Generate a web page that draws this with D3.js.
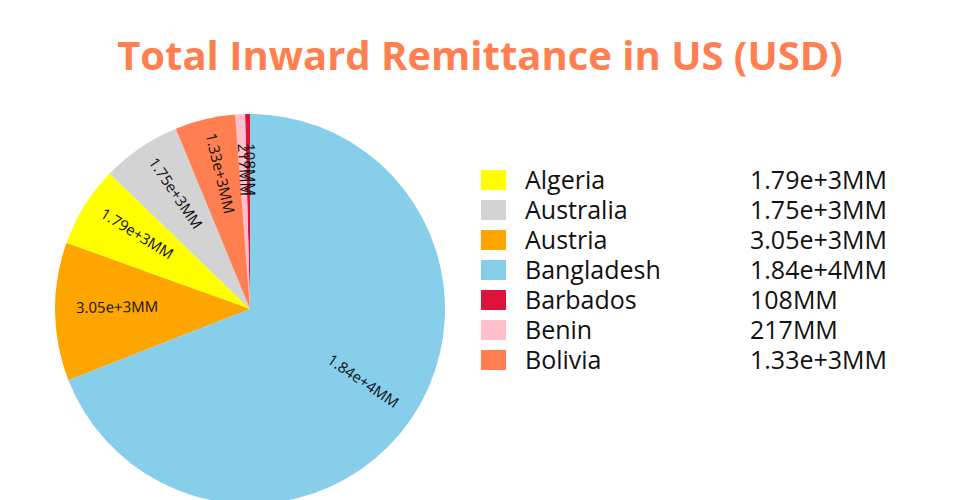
<!DOCTYPE html>
<html><head><meta charset="utf-8">
<script src="https://cdn.jsdelivr.net/npm/d3@7"></script>
<style>body{margin:0;background:#fff;}svg{display:block;}text{font-family:"Open Sans",sans-serif;}</style>
</head><body><svg id="c" width="960" height="500"></svg>
<script>
const countries = ["Algeria","Australia","Austria","Bangladesh","Barbados","Benin","Bolivia"];
const values = [1790, 1750, 3050, 18400, 108, 217, 1330];
const valueLabels = ["1.79e+3MM","1.75e+3MM","3.05e+3MM","1.84e+4MM","108MM","217MM","1.33e+3MM"];
const colors = ["#FFFF00","#D3D3D3","#FFA500","#87CEEB","#DC143C","#FFC0CB","#FF7F50"];
const title = "Total Inward Remittance in US (USD)";

const svg = d3.select("#c");
const cx = 250, cy = 309, R = 195, labelR = 135;

svg.append("text").attr("x", 480).attr("y", 70).attr("text-anchor","middle")
  .attr("font-size", 40).attr("font-weight","bold").attr("fill","#FF7F50").text(title);

const data = countries.map((c,i)=>({name:c, value:values[i], label:valueLabels[i], color:colors[i]}));
const pie = d3.pie().value(d=>d.value).sort((a,b)=>b.value-a.value);
const arcs = pie(data);
const arc = d3.arc().innerRadius(0).outerRadius(R);
const g = svg.append("g").attr("transform",`translate(${cx},${cy})`);
g.selectAll("path").data(arcs).enter().append("path")
  .attr("d", arc).attr("fill", d=>d.data.color);

g.selectAll("text.lbl").data(arcs).enter().append("text").attr("class","lbl")
  .attr("transform", d=>{
    const a = (d.startAngle+d.endAngle)/2;
    const x = labelR*Math.sin(a) + 2, y = -labelR*Math.cos(a) - 4.5;
    let rot = a*180/Math.PI - 90;
    if (rot > 90) rot -= 180;
    return `translate(${x},${y}) rotate(${rot})`;
  })
  .attr("text-anchor","middle").attr("dominant-baseline","central")
  .attr("font-size", 15).attr("fill","#111").text(d=>d.data.label);

const leg = svg.append("g");
const rows = leg.selectAll("g").data(data).enter().append("g")
  .attr("transform",(d,i)=>`translate(0,${180+i*30})`);
rows.append("rect").attr("x",481).attr("y",-10).attr("width",25).attr("height",20).attr("fill",d=>d.color);
rows.append("text").attr("x",525).attr("y",8.5).attr("font-size",25).attr("fill","#111").text(d=>d.name);
rows.append("text").attr("x",750).attr("y",8.5).attr("font-size",25).attr("fill","#111").text(d=>d.label);
</script></body></html>
